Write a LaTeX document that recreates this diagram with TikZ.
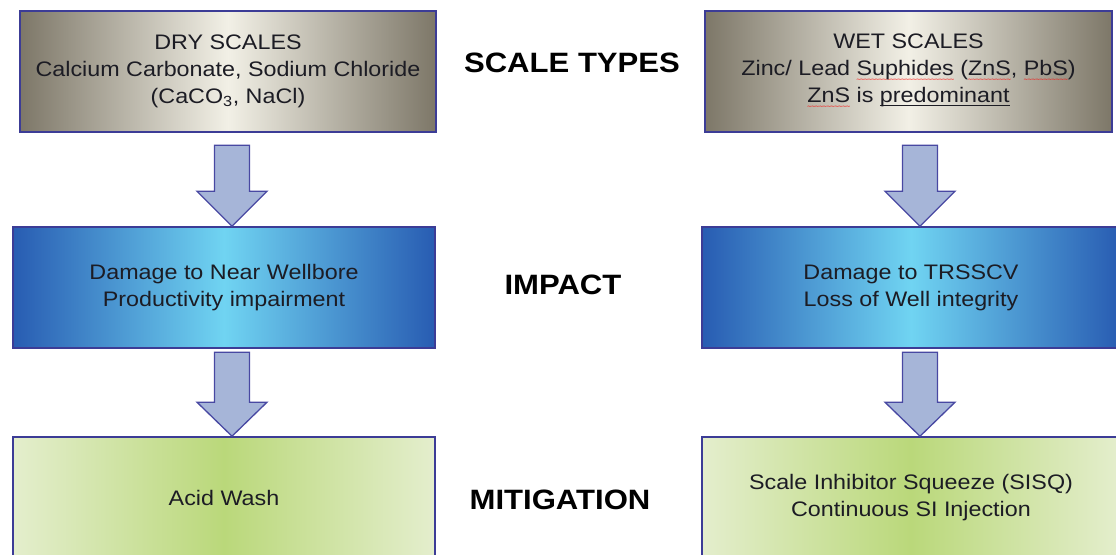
\documentclass[tikz,border=0pt]{standalone}
\usepackage{fontspec}
\setmainfont{Liberation Sans}[FakeStretch=1.11]
\newfontfamily\wavefont{DejaVu Sans}
\usetikzlibrary{calc}
\newcommand\redwave[1]{\setbox0\hbox{#1}\rlap{\raisebox{-6.2pt}{\color{red}\wavefont\fontsize{6}{6}\selectfont\hbox to\wd0{\xleaders\hbox{\kern-0.65pt\char"7E\kern-0.65pt}\hfill}}}\box0\relax}
\newcommand\ulinetxt[1]{\setbox0\hbox{#1}\rlap{\vrule height -2.2pt depth 3.6pt width \wd0}\box0\relax}
\definecolor{bordc}{RGB}{60,60,150}
\definecolor{grayedge}{RGB}{125,119,104}
\definecolor{graymid}{RGB}{242,240,230}
\definecolor{blueedge}{RGB}{40,92,178}
\definecolor{bluemid}{RGB}{112,212,242}
\definecolor{greenedge}{RGB}{228,238,205}
\definecolor{greenmid}{RGB}{186,216,122}
\definecolor{arrfill}{RGB}{166,181,216}
\definecolor{arrdraw}{RGB}{72,72,162}
\definecolor{txt}{RGB}{28,28,36}
\tikzset{
  boxbase/.style={draw=bordc, line width=1.6pt, minimum height=121pt, inner sep=0pt,
    align=center, text=txt, font=\fontsize{21}{27}\selectfont},
  hshade/.style n args={2}{path picture={\shade[left color=#1, right color=#1, middle color=#2]
    (path picture bounding box.south west) rectangle (path picture bounding box.north east);}},
  graybox/.style={boxbase, hshade={grayedge}{graymid}},
  bluebox/.style={boxbase, hshade={blueedge}{bluemid}},
  greenbox/.style={boxbase, hshade={greenedge}{greenmid}},
  lbl/.style={font=\fontsize{28}{30}\selectfont\bfseries, text=black},
  bigarr/.style={fill=arrfill, draw=arrdraw, line width=1.3pt, line join=miter}
}
\newcommand\bigarrow[3]{% tip, total length, head length
  \draw[bigarr] (#1) -- ++(35,-#3) -- ++(-17.5,0) -- ++(0,-#2+#3) -- ++(-35,0)
    -- ++(0,#2-#3) -- ++(-17.5,0) -- cycle;}
\begin{document}
\begin{tikzpicture}[x=1pt,y=-1pt]
\clip (0,0) rectangle (1116,554);
\fill[white] (0,0) rectangle (1116,554);
% top row
\node[graybox, minimum width=416pt] (dry) at (228,71.5)
  {DRY SCALES\\Calcium Carbonate,\ Sodium Chloride\\(CaCO\textsubscript{3}, NaCl)};
\node[graybox, minimum width=407pt] (wet) at (908.5,71.5)
  {WET SCALES\\Zinc/ Lead \redwave{Suphides}\ (\redwave{ZnS}, \redwave{PbS})\\\redwave{ZnS} is \ulinetxt{predominant}};
% middle row
\node[bluebox, minimum width=422pt] (imp1) at (224,287.5)
  {Damage to Near Wellbore\\Productivity impairment};
\node[bluebox, minimum width=418pt] (imp2) at (911,287.5)
  {Damage to TRSSCV\\Loss of Well integrity};
% bottom row
\node[greenbox, minimum width=422pt] (mit1) at (224,497.5) {Acid Wash};
\node[greenbox, minimum width=418pt] (mit2) at (911,497.5)
  {Scale Inhibitor Squeeze (SISQ)\\Continuous SI Injection};
% labels
\node[lbl] (l1) at (572,63) {SCALE TYPES};
\node[lbl] (l2) at (563,285) {IMPACT};
\node[lbl] (l3) at (560,500) {MITIGATION};
% arrows
\coordinate (t1) at ($(imp1.north)+(8,0)$);
\coordinate (t2) at ($(imp2.north)+(9,0)$);
\coordinate (t3) at ($(mit1.north)+(8,0)$);
\coordinate (t4) at ($(mit2.north)+(9,0)$);
\bigarrow{t1}{81}{35}
\bigarrow{t2}{81}{35}
\bigarrow{t3}{84}{34}
\bigarrow{t4}{84}{34}
\end{tikzpicture}
\end{document}
